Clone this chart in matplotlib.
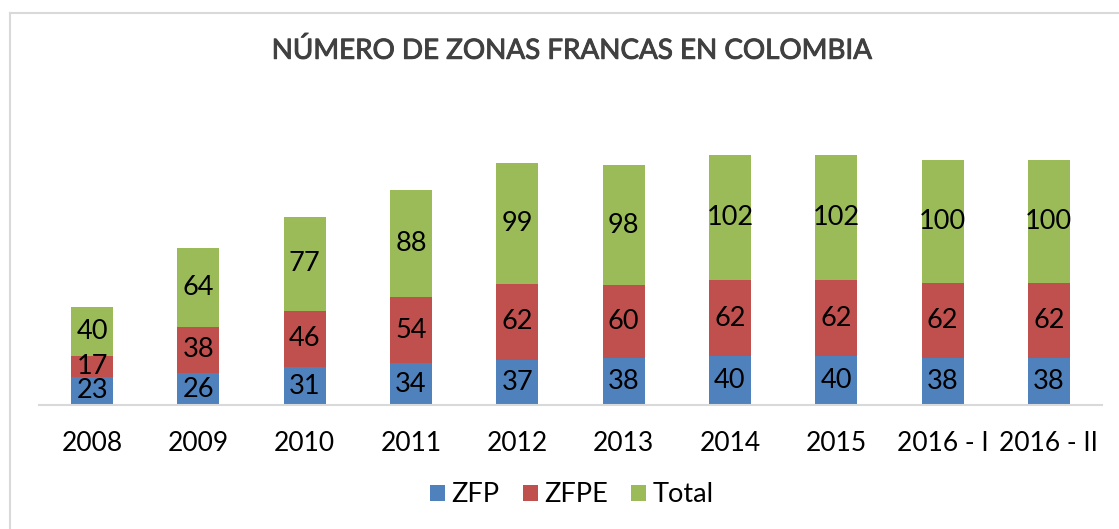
import numpy as np
import matplotlib.pyplot as plt
import matplotlib.patheffects as pe
from matplotlib.lines import Line2D

plt.rcParams['font.family'] = ['Lato', 'DejaVu Sans']

years = ['2008', '2009', '2010', '2011', '2012', '2013', '2014', '2015', '2016 - I', '2016 - II']
zfp = [23, 26, 31, 34, 37, 38, 40, 40, 38, 38]
zfpe = [17, 38, 46, 54, 62, 60, 62, 62, 62, 62]
total = [40, 64, 77, 88, 99, 98, 102, 102, 100, 100]

col_zfp = '#4F81BD'
col_zfpe = '#C0504D'
col_total = '#9BBB59'

W, H = 1119, 529
fig = plt.figure(figsize=(W / 100, H / 100), dpi=100)
ax = fig.add_axes([39 / W, (H - 405) / H, (1102 - 39) / W, 306 / H])

x = np.arange(len(years))
w = 0.395
zfp = np.array(zfp)
zfpe = np.array(zfpe)
total = np.array(total)

b1 = ax.bar(x, zfp, w, color=col_zfp, label='ZFP')
b2 = ax.bar(x, zfpe, w, bottom=zfp, color=col_zfpe, label='ZFPE')
b3 = ax.bar(x, total, w, bottom=zfp + zfpe, color=col_total, label='Total')

for bars in (b1, b2, b3):
    ax.bar_label(bars, label_type='center', fontsize=19.5, color='black')

ax.set_xlim(-0.5, len(years) - 0.5)
ax.set_ylim(0, 250)
ax.set_xticks(x)
ax.set_xticklabels(years, fontsize=19)
ax.tick_params(axis='x', length=0, pad=19)
ax.set_yticks([])
for s in ('top', 'right', 'left'):
    ax.spines[s].set_visible(False)
ax.spines['bottom'].set_color('#D9D9D9')
ax.spines['bottom'].set_linewidth(1.5)

# title a bit heavier than regular, like the original
fig.text(571 / W, 1 - 50 / H, 'NÚMERO DE ZONAS FRANCAS EN COLOMBIA',
         ha='center', va='center', fontsize=20, color='#404040',
         path_effects=[pe.withStroke(linewidth=0.7, foreground='#404040')])

fig.legend(handles=[b1, b2, b3], loc='center', bbox_to_anchor=(572 / W, 1 - 495 / H),
           ncol=3, frameon=False, fontsize=19.5, handlelength=0.55, handleheight=0.55,
           handletextpad=0.25, columnspacing=0.85)

# chart border (cut by the image edge)
fig.add_artist(Line2D([9.5 / W, 9.5 / W], [0, 1 - 12.5 / H], color='#D9D9D9', lw=1.5))
fig.add_artist(Line2D([9.5 / W, 1], [1 - 12.5 / H, 1 - 12.5 / H], color='#D9D9D9', lw=1.5))

fig.savefig('out.png', dpi=100)
